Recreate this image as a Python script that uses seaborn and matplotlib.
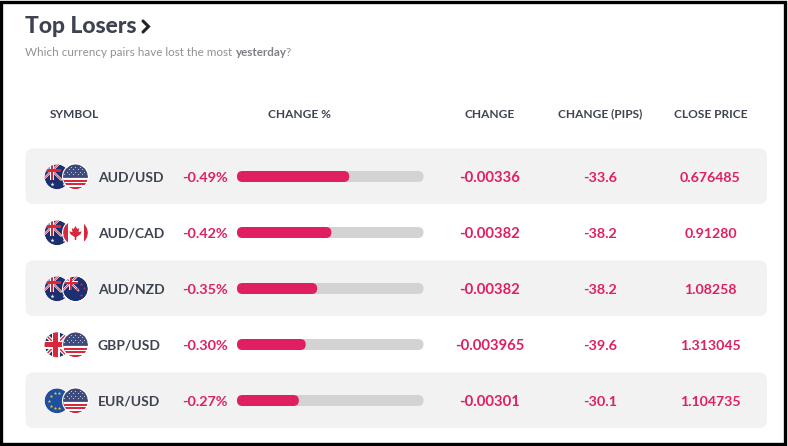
import matplotlib
matplotlib.use("Agg")
import matplotlib.pyplot as plt
from matplotlib.patches import Circle, FancyBboxPatch, Rectangle, Polygon
import seaborn as sns
import pandas as pd

# values
pairs = ["AUD/USD", "AUD/CAD", "AUD/NZD", "GBP/USD", "EUR/USD"]
change_pct = [0.49, 0.412, 0.35, 0.30, 0.27]
change_pct_labels = ["-0.49%", "-0.42%", "-0.35%", "-0.30%", "-0.27%"]
change = ["-0.00336", "-0.00382", "-0.00382", "-0.003965", "-0.00301"]
change_pips = ["-33.6", "-38.2", "-38.2", "-39.6", "-30.1"]
close_price = ["0.676485", "0.91280", "1.08258", "1.313045", "1.104735"]
bar_max = 0.814
headers = ["SYMBOL", "CHANGE %", "CHANGE", "CHANGE (PIPS)", "CLOSE PRICE"]
header_x = [74.5, 299.5, 490, 600.5, 711]

PINK = "#e01f63"
DARK = "#3d4350"
TRACK = "#d3d3d3"
ROW = "#f2f2f2"
NAVY = "#1c2f6e"
RED = "#d8283c"

sns.set_theme(style="white")
plt.rcParams["font.family"] = ["Lato", "DejaVu Sans"]

fig = plt.figure(figsize=(7.88, 4.46), dpi=100)
ax = fig.add_axes([0, 0, 1, 1])
ax.set_xlim(0, 788)
ax.set_ylim(446, 0)
ax.axis("off")

# frame
ax.add_patch(Rectangle((1.5, 1.5), 784, 442.5, fc="white", ec="black", lw=2.4))

ax.text(25.5, 33, "Top Losers", fontsize=16.5, fontweight="black", color=DARK, va="baseline")
ax.plot([143, 148.5, 143], [21, 26.5, 32], color="#222222", lw=2.2, solid_capstyle="round",
        solid_joinstyle="miter")
ax.text(25.5, 56, "Which currency pairs have lost the most", fontsize=8.4, color="#8f9296", va="baseline")
ax.text(236, 56, "yesterday", fontsize=8.4, fontweight="bold", color="#7d8085", va="baseline")
ax.text(286, 56, "?", fontsize=8.4, color="#8f9296", va="baseline")

for name, x in zip(headers, header_x):
    ax.text(x, 117.5, name, fontsize=8.6, fontweight="bold", color=DARK, ha="center", va="baseline")


def row_y(i):
    return 176.5 + 56 * i


def clip_circle(cx, cy, r):
    return Circle((cx, cy), r, transform=ax.transData)


def add(shape, clip):
    ax.add_patch(shape)
    shape.set_clip_path(clip)
    return shape


def union_jack(cx, cy, s, clip, scale=1.0, z=3, cross=(0.42, 0.25)):
    # small union jack filling the box around (cx, cy)
    for sign in (1, -1):
        ln = ax.plot([cx - s, cx + s], [cy - sign * s, cy + sign * s], color="white", lw=1.6 * scale, zorder=z)[0]
        ln.set_clip_path(clip)
        ln = ax.plot([cx - s, cx + s], [cy - sign * s, cy + sign * s], color=RED, lw=0.6 * scale, zorder=z)[0]
        ln.set_clip_path(clip)
    for w, c in zip(cross, ("white", RED)):
        add(Rectangle((cx - s, cy - s * w / 2), 2 * s, s * w, fc=c, ec="none", zorder=z), clip)
        add(Rectangle((cx - s * w / 2, cy - s), s * w, 2 * s, fc=c, ec="none", zorder=z), clip)


def flag_aud(cx, cy, r):
    clip = clip_circle(cx, cy, r)
    add(Circle((cx, cy), r, fc=NAVY, ec="none", zorder=2), clip)
    union_jack(cx - r * 0.4, cy - r * 0.5, r * 0.72, clip)
    ax.scatter([cx - r * 0.4, cx + r * 0.5, cx + r * 0.6], [cy + r * 0.55, cy + r * 0.1, cy + r * 0.6],
               s=9, c="white", marker="*", linewidths=0, zorder=4)


def flag_usd(cx, cy, r):
    clip = clip_circle(cx, cy, r)
    add(Circle((cx, cy), r, fc="white", ec="none", zorder=6), clip)
    for k in range(7):
        add(Rectangle((cx - r, cy - r + k * 2 * r / 6.5), 2 * r, r / 6.5, fc=RED, ec="none", zorder=6), clip)
    add(Rectangle((cx - r, cy - r), 2 * r, r * 1.05, fc="#3d4a7c", ec="none", zorder=7), clip)
    # dotted canton
    for a in range(-5, 6):
        for b in range(1, 5):
            if (a + b) % 2 == 0:
                dot = ax.scatter(cx + a * r * 0.18, cy - b * r * 0.2, s=0.7, c="#c9cde0", linewidths=0, zorder=7.5)
                dot.set_clip_path(clip)
    ax.add_patch(Circle((cx, cy), r + 0.6, fc="none", ec="white", lw=0.8, zorder=8))


def flag_cad(cx, cy, r):
    clip = clip_circle(cx, cy, r)
    add(Circle((cx, cy), r, fc="white", ec="none", zorder=6), clip)
    add(Rectangle((cx - r, cy - r), r * 0.4, 2 * r, fc=RED, ec="none", zorder=6), clip)
    add(Rectangle((cx + r * 0.7, cy - r), r * 0.3, 2 * r, fc=RED, ec="none", zorder=6), clip)
    leaf = [(0, -0.55), (0.14, -0.3), (0.3, -0.38), (0.24, -0.05), (0.5, -0.12), (0.42, 0.1),
            (0.06, 0.35), (0.06, 0.58), (-0.06, 0.58), (-0.06, 0.35), (-0.42, 0.1), (-0.5, -0.12),
            (-0.24, -0.05), (-0.3, -0.38), (-0.14, -0.3)]
    ax.add_patch(Polygon([(cx + a * r, cy + b * r) for a, b in leaf], fc=RED, ec="none", zorder=7))
    ax.add_patch(Circle((cx, cy), r + 0.6, fc="none", ec="white", lw=0.8, zorder=8))


def flag_nzd(cx, cy, r):
    clip = clip_circle(cx, cy, r)
    add(Circle((cx, cy), r, fc=NAVY, ec="none", zorder=6), clip)
    ax.add_patch(Circle((cx, cy), r + 0.6, fc="none", ec="white", lw=0.8, zorder=6))
    union_jack(cx - r * 0.4, cy - r * 0.5, r * 0.62, clip, z=7)
    xs = [cx + r * 0.45, cx + r * 0.15, cx + r * 0.72, cx + r * 0.45]
    ys = [cy - r * 0.35, cy + r * 0.0, cy - r * 0.05, cy + r * 0.5]
    ax.scatter(xs, ys, s=6, c=RED, marker="*", linewidths=0, zorder=8)


def flag_gbp(cx, cy, r):
    clip = clip_circle(cx, cy, r)
    add(Circle((cx, cy), r, fc=NAVY, ec="none", zorder=2), clip)
    union_jack(cx - r * 0.1, cy, r * 1.1, clip, 1.7, cross=(0.55, 0.34))


def flag_eur(cx, cy, r):
    clip = clip_circle(cx, cy, r)
    add(Circle((cx, cy), r, fc="#1f4f9e", ec="none", zorder=2), clip)
    ring = [(-0.62, 0.0), (-0.5, -0.4), (-0.15, -0.62), (0.2, -0.6), (-0.5, 0.4), (-0.15, 0.62), (0.2, 0.6)]
    ax.scatter([cx + a * r for a, b in ring], [cy + b * r for a, b in ring], s=7, c="#f0c92c",
               marker="*", linewidths=0, zorder=3)


first_flag = [flag_aud, flag_aud, flag_aud, flag_gbp, flag_eur]
second_flag = [flag_usd, flag_cad, flag_nzd, flag_usd, flag_usd]

for i, pair in enumerate(pairs):
    y = row_y(i)
    if i % 2 == 0:
        ax.add_patch(FancyBboxPatch((25.5, y - 28), 741.5, 55.5, boxstyle="round,pad=0,rounding_size=8",
                                    fc=ROW, ec="none", zorder=1))
    first_flag[i](57, y + 0.3, 12.4)
    second_flag[i](75.5, y + 0.3, 12.4)
    base = y + 5.2
    ax.text(98, base, pair, fontsize=10, fontweight="bold", color=DARK, va="baseline", zorder=9)
    ax.text(228, base, change_pct_labels[i], fontsize=10.4, fontweight="bold", color=PINK, ha="right", va="baseline")
    ax.text(490, base, change[i], fontsize=10.6, fontweight="bold", color=PINK, ha="center", va="baseline")
    ax.text(600, base, change_pips[i], fontsize=10.4, fontweight="bold", color=PINK, ha="center", va="baseline")
    ax.text(710.5, base, close_price[i], fontsize=10.2, fontweight="bold", color=PINK, ha="center", va="baseline")

# bars sit on their own axes, lined up with the rows
left, right, top, bottom = 237, 423.5, 148.5, 428.5
bar_ax = fig.add_axes([left / 788, 1 - bottom / 446, (right - left) / 788, (bottom - top) / 446])
bar_ax.patch.set_alpha(0)
df = pd.DataFrame({"pair": pairs, "pct": change_pct, "track": [bar_max] * len(pairs)})
sns.barplot(data=df, y="pair", x="track", color=TRACK, width=11 / 56, saturation=1, ax=bar_ax)
sns.barplot(data=df, y="pair", x="pct", color=PINK, width=11 / 56, saturation=1, ax=bar_ax)
bar_ax.set_xlim(0, bar_max)
bar_ax.set_ylim(4.5, -0.5)
bar_ax.axis("off")

# round the bar ends
px_per_x = (right - left) / bar_max
aspect = px_per_x / 56
for bar in list(bar_ax.patches):
    x0, y0, w, h = bar.get_x(), bar.get_y(), bar.get_width(), bar.get_height()
    round_bar = FancyBboxPatch((x0, y0), w, h, boxstyle="round,pad=0,rounding_size=%f" % (5.5 / px_per_x),
                               mutation_aspect=aspect, fc=bar.get_facecolor(), ec="none",
                               zorder=bar.get_zorder())
    bar.remove()
    bar_ax.add_patch(round_bar)

fig.savefig("out.png", dpi=100)
